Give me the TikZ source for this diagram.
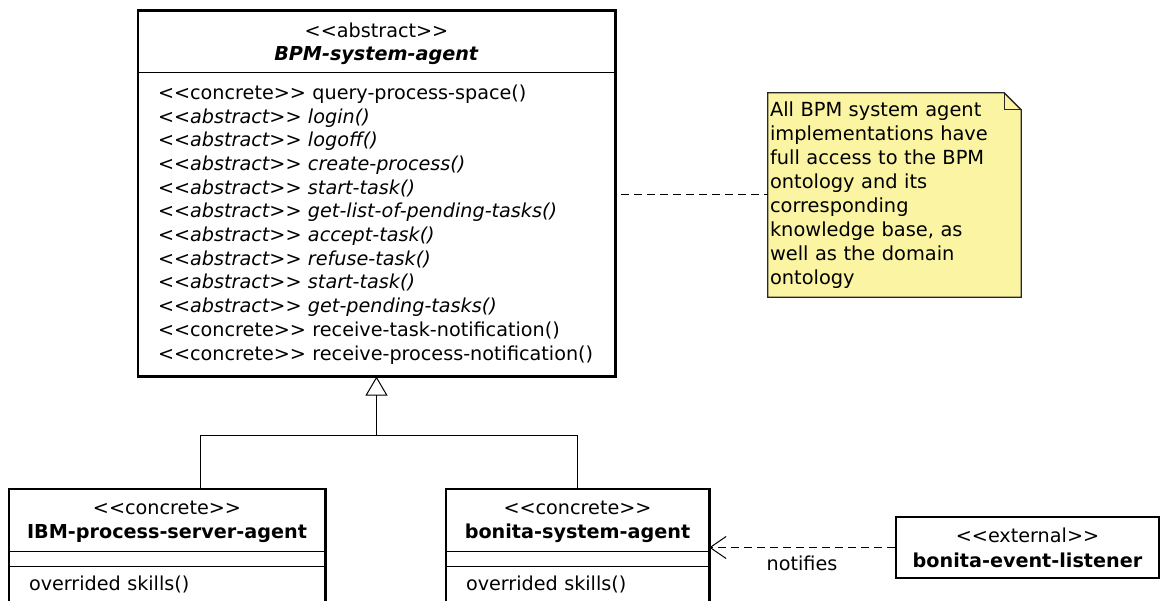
\documentclass[tikz,border=0pt]{standalone}
\usepackage{fontspec}
\setmainfont{DejaVu Sans}[Ligatures=TeXOff]
\usetikzlibrary{arrows.meta,positioning,backgrounds}
\definecolor{notefill}{RGB}{251,245,163}

\begin{document}
\begin{tikzpicture}[
  x=1pt, y=-1pt,
  node distance=0pt,
  txt/.style={inner sep=0pt, font=\fontsize{19.2}{23.7}\selectfont},
  hdr/.style={txt, align=center, text depth=0pt, font=\fontsize{19.2}{23.5}\selectfont},
  ops/.style={txt, align=left, inner xsep=20pt},
  frame/.style={draw, line width=2.6pt},
  div/.style={line width=0.9pt},
  tree/.style={line width=1pt},
  gen/.style={tree, -{Triangle[open, length=19pt, width=22pt]}},
  lnk/.style={line width=1pt, dash pattern=on 8pt off 5pt},
  dep/.style={lnk, -{Straight Barb[length=16pt, width=22pt]}},
  notebox/.style={txt, font=\fontsize{19.4}{24}\selectfont, align=left,
                  text width=249pt, inner xsep=2pt, minimum height=204pt}
]
\useasboundingbox (0,0) rectangle (1161,601);
\clip (0,0) rectangle (1161,601);

\node[hdr, minimum width=477pt, minimum height=61pt] (bpm) at (376.5,41.5)
  {<<abstract>>\\\textbf{\textit{BPM-system-agent}}};
\node[ops, below=of bpm, text width=437pt, minimum height=304pt] (bpmops)
  {<<concrete>> query-process-space()\\
   \textit{<<abstract>> login()}\\
   \textit{<<abstract>> logoff()}\\
   \textit{<<abstract>> create-process()}\\
   \textit{<<abstract>> start-task()}\\
   \textit{<<abstract>> get-list-of-pending-tasks()}\\
   \textit{<<abstract>> accept-task()}\\
   \textit{<<abstract>> refuse-task()}\\
   \textit{<<abstract>> start-task()}\\
   \textit{<<abstract>> get-pending-tasks()}\\
   <<concrete>> receive-task-notification()\\
   <<concrete>> receive-process-notification()};
\draw[frame] (bpm.north west) rectangle (bpmops.south east);
\draw[div] (bpm.south west) -- (bpm.south east);

\node[hdr, minimum width=316pt, minimum height=62pt] (ibm) at (167,520)
  {<<concrete>>\\\textbf{IBM-process-server-agent}};
\node[txt, below=of ibm, minimum width=316pt, minimum height=15pt] (ibmatt) {};
\node[ops, below=of ibmatt, text width=276pt, minimum height=36pt] (ibmops)
  {overrided skills()};
\draw[frame] (ibm.north west) rectangle ([yshift=-30pt]ibmops.south east);
\draw[div] (ibm.south west) -- (ibm.south east);
\draw[div] (ibmatt.south west) -- (ibmatt.south east);

\node[hdr, minimum width=263pt, minimum height=62pt] (bon) at (577.5,520)
  {<<concrete>>\\\textbf{bonita-system-agent}};
\node[txt, below=of bon, minimum width=263pt, minimum height=15pt] (bonatt) {};
\node[ops, below=of bonatt, text width=223pt, minimum height=36pt] (bonops)
  {overrided skills()};
\draw[frame] (bon.north west) rectangle ([yshift=-30pt]bonops.south east);
\draw[div] (bon.south west) -- (bon.south east);
\draw[div] (bonatt.south west) -- (bonatt.south east);

\node[hdr, frame, minimum width=263pt, minimum height=61pt,
      font=\fontsize{19.2}{25.5}\selectfont] (ext) at (1027.5,547.5)
  {<<external>>\\\textbf{bonita-event-listener}};

\node[notebox] (note) at (894.5,195)
  {All BPM system agent\\implementations have\\full access to the BPM\\ontology and its\\corresponding\\knowledge base, as\\well as the domain\\ontology};
\begin{scope}[on background layer]
\filldraw[fill=notefill, draw=black!85, line width=1.3pt]
  (note.north west) -- ([xshift=-17pt]note.north east) -- ([yshift=-17pt]note.north east)
  -- (note.south east) -- (note.south west) -- cycle;
\draw[black!85, line width=1.3pt] ([xshift=-17pt]note.north east) |- ([yshift=-17pt]note.north east);
\end{scope}

\coordinate (fork) at ([yshift=-59pt]bpmops.south);
\draw[tree] ([xshift=33pt]ibm.north) |- (fork);
\draw[tree] (bon.north) |- (fork);
\draw[gen] (fork) -- (bpmops.south);

\draw[lnk] ([xshift=6pt]note.west -| bpmops.east) -- (note.west);
\draw[dep] (ext.west) -- (ext.west -| bon.east)
  node[txt, midway, below=8pt] (ntf) {notifies};
\end{tikzpicture}
\end{document}
